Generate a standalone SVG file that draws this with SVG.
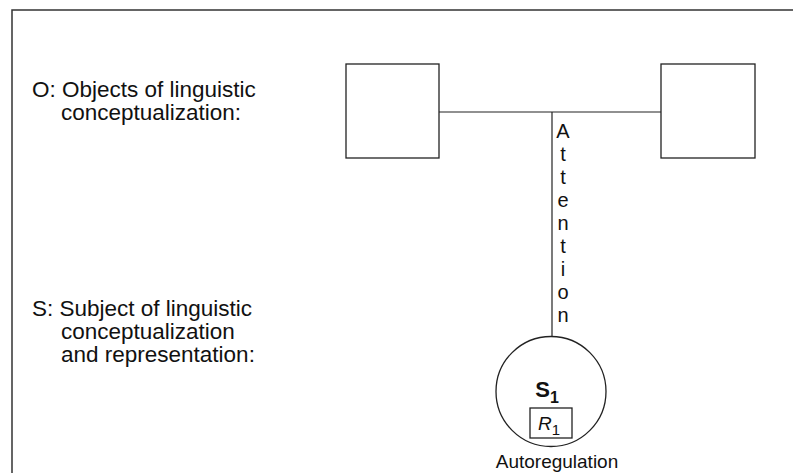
<svg xmlns="http://www.w3.org/2000/svg" width="793" height="473" viewBox="0 0 793 473">
  <style>
    .frame { fill: none; stroke: #333; stroke-width: 1.5; }
    .line { fill: none; stroke: #222; stroke-width: 1.2; }
    .box { fill: #fff; stroke: #222; stroke-width: 1.3; }
    .txt { font-family: "Liberation Sans", Arial, sans-serif; fill: #111; }
    .lbl { font-size: 22.5px; }
    .att { font-size: 20px; text-anchor: middle; }
  </style>
  <rect width="793" height="473" fill="#fff"/>
  <!-- page frame: top and left rules -->
  <path class="frame" d="M12,473 V10 H793"/>

  <!-- side captions -->
  <g id="caption-objects" class="txt lbl">
    <text x="32" y="97">O: Objects of linguistic</text>
    <text x="61" y="120">conceptualization:</text>
  </g>
  <g id="caption-subject" class="txt lbl">
    <text x="32" y="316">S: Subject of linguistic</text>
    <text x="61" y="339">conceptualization</text>
    <text x="61" y="362">and representation:</text>
  </g>

  <!-- connectors -->
  <g id="connectors">
    <line class="line" x1="439" y1="112" x2="661" y2="112"/>
    <line class="line" x1="552" y1="112" x2="552" y2="336"/>
  </g>

  <g id="object-left">
    <rect class="box" x="346" y="64" width="93" height="94"/>
  </g>
  <g id="object-right">
    <rect class="box" x="661" y="64" width="94" height="94"/>
  </g>

  <!-- vertical label along the attention line -->
  <g id="attention-label" class="txt att">
    <text x="563" y="138">A</text>
    <text x="563" y="161">t</text>
    <text x="563" y="184">t</text>
    <text x="563" y="207">e</text>
    <text x="563" y="230">n</text>
    <text x="563" y="253">t</text>
    <text x="563" y="276">i</text>
    <text x="563" y="299">o</text>
    <text x="563" y="322">n</text>
  </g>

  <g id="subject">
    <circle class="box" cx="551" cy="391.5" r="55"/>
    <text class="txt" x="547" y="397" font-size="22" font-weight="bold" text-anchor="middle">S<tspan font-size="16" dy="6">1</tspan></text>
    <rect class="box" x="530" y="408" width="42" height="30"/>
    <text class="txt" x="549" y="430" font-size="19" font-style="italic" text-anchor="middle">R<tspan font-size="15" font-style="normal" dy="5">1</tspan></text>
    <text class="txt" x="557" y="468" font-size="19" text-anchor="middle">Autoregulation</text>
  </g>
</svg>
